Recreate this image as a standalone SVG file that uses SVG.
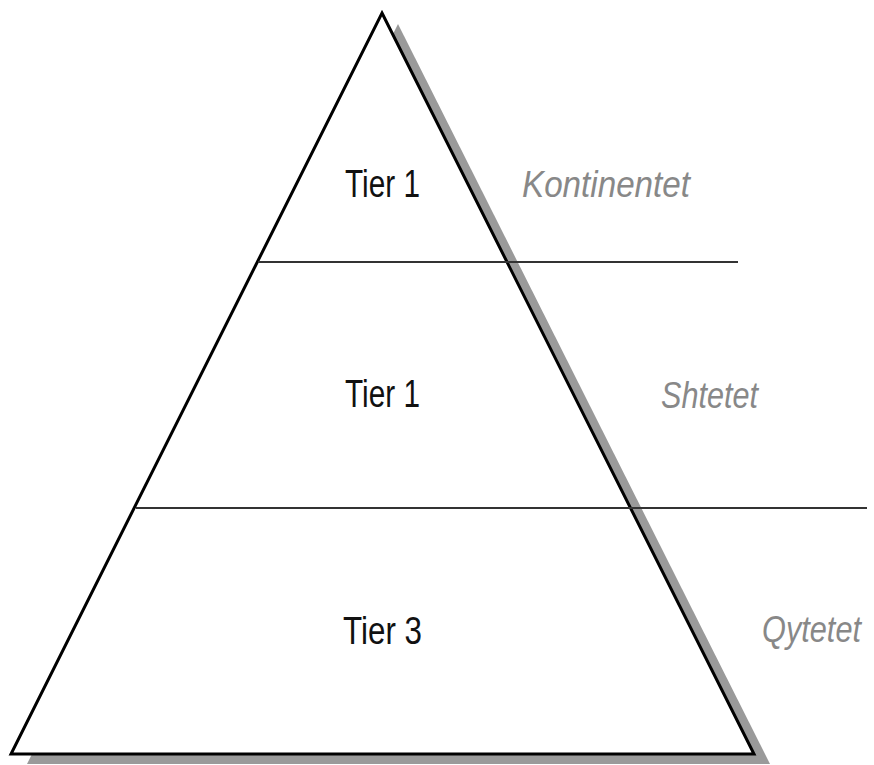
<svg xmlns="http://www.w3.org/2000/svg" width="874" height="765" viewBox="0 0 874 765">
<style>
.tier{font-family:"Liberation Sans",Arial,sans-serif;font-size:39px;fill:#111;}
.lbl{font-family:"Liberation Sans",Arial,sans-serif;font-size:37px;font-style:italic;fill:#888;}
.div{stroke:#333;stroke-width:2;fill:none;}
</style>
<rect width="874" height="765" fill="#fff"/>
<g id="pyramid">
<polygon points="398,24 770,764 27,764" fill="#9a9a9a"/>
<polygon points="382,13 754,754 11,754" fill="#fff" stroke="#000" stroke-width="3" stroke-linejoin="miter"/>
</g>
<g id="connectors">
<line class="div" x1="258" y1="262" x2="738" y2="262"/>
<line class="div" x1="136" y1="508" x2="867" y2="508"/>
</g>
<g id="tier-top"><text class="tier" x="345" y="197" textLength="75" lengthAdjust="spacingAndGlyphs">Tier 1</text></g>
<g id="tier-mid"><text class="tier" x="345" y="407" textLength="75" lengthAdjust="spacingAndGlyphs">Tier 1</text></g>
<g id="tier-bottom"><text class="tier" x="343" y="644" textLength="79" lengthAdjust="spacingAndGlyphs">Tier 3</text></g>
<g id="label-kontinentet"><text class="lbl" x="522" y="197" textLength="168" lengthAdjust="spacingAndGlyphs">Kontinentet</text></g>
<g id="label-shtetet"><text class="lbl" x="661" y="408" textLength="97" lengthAdjust="spacingAndGlyphs">Shtetet</text></g>
<g id="label-qytetet"><text class="lbl" transform="translate(762,642) scale(0.83,1)" x="0" y="0">Qytetet</text></g>
</svg>
